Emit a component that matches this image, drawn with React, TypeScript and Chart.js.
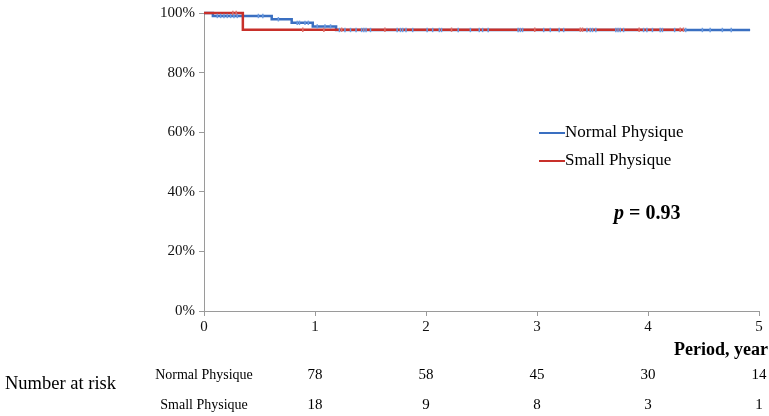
import { useEffect, useRef } from "react"
import { Chart, registerables, type Plugin } from "chart.js"

Chart.register(...registerables)

// Kaplan-Meier steps (years, survival %)
const normalStepYears = [0, 0.08, 0.61, 0.79, 0.98, 1.19, 4.92]
const normalSurvival = [100, 99.0, 97.9, 96.7, 95.5, 94.3, 94.3]
const smallStepYears = [0, 0.35, 4.32]
const smallSurvival = [100, 94.4, 94.4]

// censor marks (years)
const normalCensored = [
  0.12, 0.15, 0.18, 0.21, 0.24, 0.27, 0.3, 0.49, 0.53, 0.67, 0.84, 0.86, 0.91, 0.94, 1.02, 1.09, 1.14,
  1.22, 1.27, 1.32, 1.37, 1.42, 1.44, 1.46, 1.5, 1.74, 1.77, 1.79, 1.82, 1.88, 2.01, 2.06, 2.12, 2.14,
  2.29, 2.4, 2.48, 2.51, 2.56, 2.83, 2.85, 2.87, 3.06, 3.12, 3.2, 3.24, 3.45, 3.48, 3.5, 3.53, 3.71,
  3.73, 3.75, 3.78, 3.96, 3.99, 4.04, 4.11, 4.13, 4.24, 4.34, 4.49, 4.56, 4.67, 4.75,
]
const smallCensored = [0.26, 0.29, 0.89, 1.08, 1.24, 1.63, 2.23, 2.98, 3.39, 3.41, 3.92, 4.29, 4.32]

// number at risk table
const riskYears = [1, 2, 3, 4, 5]
const normalAtRisk = [78, 58, 45, 30, 14]
const smallAtRisk = [18, 9, 8, 3, 1]

const groupNames = ["Normal Physique", "Small Physique"]
const pValue = "0.93"

const BLUE = "#3a6fc1"
const RED = "#c8302a"
const SERIF = "'Liberation Serif', 'Times New Roman', serif"

function levelAt(years: number[], levels: number[], t: number) {
  let v = levels[0]
  for (let i = 0; i < years.length; i++) if (years[i] <= t) v = levels[i]
  return v
}

const annotations: Plugin = {
  id: "annotations",
  afterDraw(chart) {
    const { ctx } = chart
    const x = chart.scales.x
    ctx.save()
    ctx.fillStyle = "#000"
    ctx.textBaseline = "middle"

    // legend
    const legend = [
      { name: groupNames[0], color: BLUE, y: 133 },
      { name: groupNames[1], color: RED, y: 161 },
    ]
    ctx.font = `17px ${SERIF}`
    ctx.textAlign = "left"
    legend.forEach((l) => {
      ctx.strokeStyle = l.color
      ctx.lineWidth = 2
      ctx.beginPath()
      ctx.moveTo(539, l.y)
      ctx.lineTo(565, l.y)
      ctx.stroke()
      ctx.fillText(l.name, 565, l.y)
    })

    // p value
    ctx.font = `italic bold 20px ${SERIF}`
    ctx.fillText("p", 614, 214)
    const pw = ctx.measureText("p").width
    ctx.font = `bold 20px ${SERIF}`
    ctx.fillText(` = ${pValue}`, 614 + pw, 214)

    // axis title
    ctx.font = `bold 18px ${SERIF}`
    ctx.textAlign = "right"
    ctx.fillText("Period, year", 768, 350)

    // number at risk
    ctx.font = `18.5px ${SERIF}`
    ctx.textAlign = "left"
    ctx.fillText("Number at risk", 5, 384)

    const rows = [
      { name: groupNames[0], values: normalAtRisk, y: 375 },
      { name: groupNames[1], values: smallAtRisk, y: 405 },
    ]
    ctx.textAlign = "center"
    rows.forEach((r) => {
      ctx.font = `14px ${SERIF}`
      ctx.fillText(r.name, x.getPixelForValue(0), r.y)
      ctx.font = `15px ${SERIF}`
      r.values.forEach((v, i) => ctx.fillText(String(v), x.getPixelForValue(riskYears[i]), r.y))
    })
    ctx.restore()
  },
}

export default function App() {
  const canvasRef = useRef<HTMLCanvasElement>(null)
  const chartRef = useRef<Chart | null>(null)

  useEffect(() => {
    document.body.style.margin = "0"
    if (!canvasRef.current) return
    if (chartRef.current) chartRef.current.destroy()

    const toPoints = (xs: number[], ys: number[]) => xs.map((v, i) => ({ x: v, y: ys[i] }))

    chartRef.current = new Chart(canvasRef.current, {
      type: "line",
      data: {
        datasets: [
          {
            label: "Normal censored",
            type: "scatter",
            data: normalCensored.map((t) => ({ x: t, y: levelAt(normalStepYears, normalSurvival, t) })),
            pointStyle: "line",
            rotation: 90,
            radius: 2.2,
            borderWidth: 1.5,
            borderColor: "#6b9be0",
            order: 0,
            clip: 6,
          },
          {
            label: "Small censored",
            type: "scatter",
            data: smallCensored.map((t) => ({ x: t, y: levelAt(smallStepYears, smallSurvival, t) })),
            pointStyle: "line",
            rotation: 90,
            radius: 2.2,
            borderWidth: 1.5,
            borderColor: "#de716b",
            order: 1,
            clip: 6,
          },
          {
            label: groupNames[1],
            data: toPoints(smallStepYears, smallSurvival),
            borderColor: RED,
            borderWidth: 2.5,
            stepped: true,
            pointRadius: 0,
            fill: false,
            order: 2,
            clip: 6,
          },
          {
            label: groupNames[0],
            data: toPoints(normalStepYears, normalSurvival),
            borderColor: BLUE,
            borderWidth: 2.5,
            stepped: true,
            pointRadius: 0,
            fill: false,
            order: 3,
            clip: 6,
          },
        ],
      },
      options: {
        animation: false,
        responsive: true,
        maintainAspectRatio: false,
        layout: { padding: { top: 10, right: 10, left: 0, bottom: 0 } },
        plugins: { legend: { display: false }, tooltip: { enabled: false } },
        scales: {
          x: {
            type: "linear",
            min: 0,
            max: 5,
            afterFit: (s) => {
              s.height = 105
            },
            ticks: { stepSize: 1, color: "#111", font: { family: SERIF, size: 15 }, padding: 2, maxRotation: 0 },
            grid: { drawOnChartArea: false, drawTicks: true, tickLength: 5, color: "#9a9a9a" },
            border: { color: "#9a9a9a" },
          },
          y: {
            min: 0,
            max: 100,
            afterFit: (s) => {
              s.width = 204
            },
            ticks: {
              stepSize: 20,
              color: "#111",
              font: { family: SERIF, size: 15 },
              padding: 4,
              callback: (v) => `${v}%`,
            },
            grid: { drawOnChartArea: false, drawTicks: true, tickLength: 5, color: "#9a9a9a" },
            border: { color: "#9a9a9a" },
          },
        },
      },
      plugins: [annotations],
    })

    return () => {
      if (chartRef.current) {
        chartRef.current.destroy()
        chartRef.current = null
      }
    }
  }, [])

  return (
    <div style={{ width: 769, height: 416, position: "relative" }}>
      <canvas ref={canvasRef} />
    </div>
  )
}
